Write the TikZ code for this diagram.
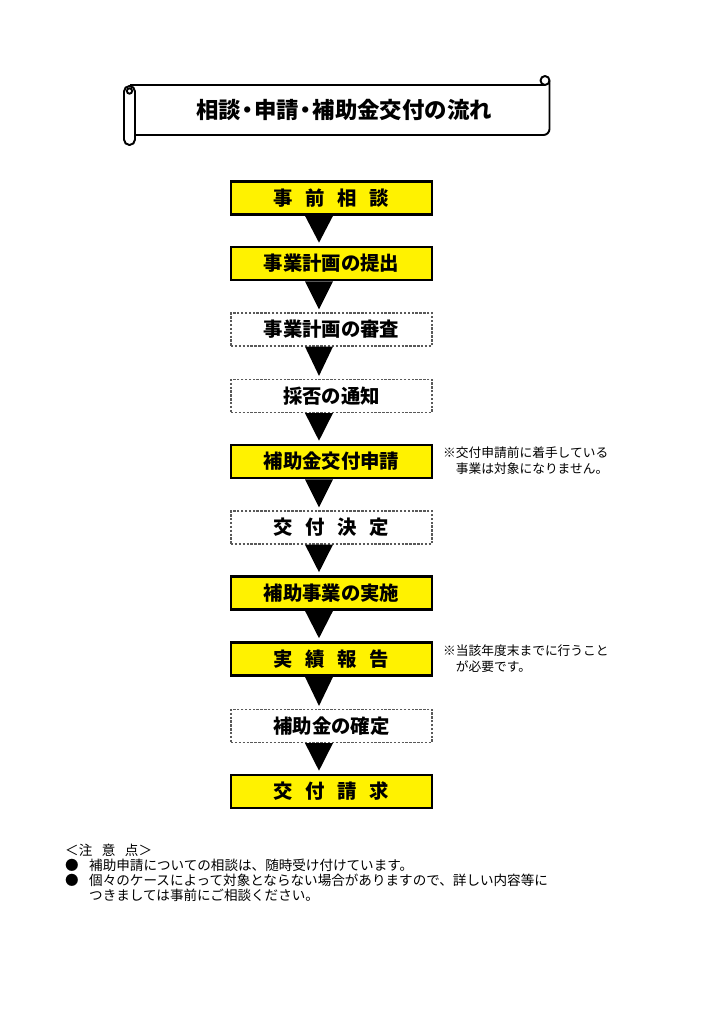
\documentclass[tikz,border=0pt]{standalone}
\usepackage{fontspec}
\setmainfont{Noto Sans CJK JP}
\newcommand{\gap}{\hspace{.65em}}
\newcommand{\tdot}{\kern-.2em・\kern-.2em}
\begin{document}
\begin{tikzpicture}[
  x = 0.029cm, y = -0.029cm,
  banner/.style={line width=1.6pt, line join=round},
  stage/.style={draw, line width=2.2pt, fill=yellow, minimum width=165.9pt, minimum height=27.2pt, inner sep=0pt, font=\fontsize{16}{16}\selectfont\bfseries},
  review/.style={draw=black!65, line width=1pt, dash pattern=on 2pt off 1.2pt, fill=white, minimum width=165.9pt, minimum height=27.2pt, inner sep=0pt, font=\fontsize{16}{16}\selectfont\bfseries},
  note/.style={anchor=west, align=left, inner sep=0pt, font=\fontsize{10.5}{13.2}\selectfont},
  remark/.style={anchor=west, inner sep=0pt, font=\fontsize{11.2}{13}\selectfont}
]
\useasboundingbox (0,0) rectangle (724,1024);

% flow arrow between two stages
\newcommand{\flow}[2]{\fill ([shift={(-26.5,0)}]#1.south) -- ([shift={(1.5,0)}]#1.south) -- ([shift={(-12.5,-3)}]#2.north) -- cycle;}

%title banner
\draw[banner] (129.5,85) -- (545,85);
\draw[banner] (545,80.5) circle (3.7pt);
\draw[banner, rounded corners=5pt] (549.5,80.5) -- (549.5,135) -- (135,135);
\draw[banner, fill=white, rounded corners=4.5pt] (124,86) rectangle (135,145);
\draw[banner] (129.5,91) circle (2.2pt);
\node[font=\fontsize{18.5}{18}\selectfont\bfseries] (title) at (344,110) {相談\tdot 申請\tdot 補助金交付の流れ};

%stages
\node[stage]  (consult) at (331.5,198)   {事\gap 前\gap 相\gap 談};
\node[stage]  (plan)    at (331.5,263.5) {事業計画の提出};
\node[review] (exam)    at (331.5,329.5) {事業計画の審査};
\node[review] (notice)  at (331.5,396)   {採否の通知};
\node[stage]  (apply)   at (331.5,461.5) {補助金交付申請};
\node[review] (decide)  at (331.5,527.5) {交\gap 付\gap 決\gap 定};
\node[stage]  (project) at (331.5,593)   {補助事業の実施};
\node[stage]  (report)  at (331.5,659)   {実\gap 績\gap 報\gap 告};
\node[review] (fix)     at (331.5,726)   {補助金の確定};
\node[stage]  (claim)   at (331.5,791.5) {交\gap 付\gap 請\gap 求};

%arrows
\flow{consult}{plan}
\flow{plan}{exam}
\flow{exam}{notice}
\flow{notice}{apply}
\flow{apply}{decide}
\flow{decide}{project}
\flow{project}{report}
\flow{report}{fix}
\flow{fix}{claim}

%side notes
\node[note] (noteA) at (443,461) {※交付申請前に着手している\\　事業は対象になりません。};
\node[note] (noteB) at (443,659) {※当該年度末までに行うこと\\　が必要です。};

%remarks
\node[remark] (head)  at (65,850) {＜注\hspace{.7em}意\hspace{.7em}点＞};
\node[remark] (dotA)  at (65,865) {●};
\node[remark] (dotB)  at (65,880) {●};
\node[remark] (textA) at (89,865) {補助申請についての相談は、随時受け付けています。};
\node[remark] (textB) at (89,880) {個々のケースによって対象とならない場合がありますので、詳しい内容等に};
\node[remark] (textC) at (89,895) {つきましては事前にご相談ください。};

\end{tikzpicture}
\end{document}
